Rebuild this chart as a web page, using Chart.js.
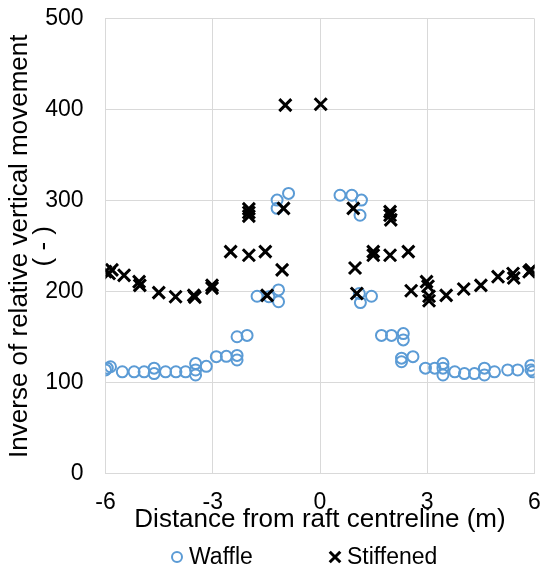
<!DOCTYPE html>
<html>
<head>
<meta charset="utf-8">
<script src="https://cdn.jsdelivr.net/npm/chart.js@4.4.1/dist/chart.umd.min.js"></script>
<style>
  html, body { margin: 0; padding: 0; background: #ffffff; }
  #wrap { width: 546px; height: 572px; }
</style>
</head>
<body>
<div id="wrap"><canvas id="chart" width="546" height="572"></canvas></div>
<script>
// Distance from raft centreline (m) and inverse of relative vertical movement (-)
const waffleX = [-6.0, -5.95, -5.86, -5.53, -5.2, -4.92, -4.64, -4.64, -4.32, -4.03, -3.76,
  -3.48, -3.48, -3.48, -3.18, -2.9, -2.62, -2.32, -2.32, -2.32, -2.04, -1.76, -1.43,
  -1.16, -1.16, -1.2, -1.2, -0.88,
  0.56, 0.89, 1.16, 1.12, 1.1, 1.13, 1.44, 1.72, 2.0, 2.33, 2.33, 2.28, 2.28, 2.6,
  2.95, 3.21, 3.44, 3.44, 3.44, 3.77, 4.04, 4.32, 4.6, 4.6, 4.88, 5.25, 5.53, 5.9, 5.9, 5.95];
const waffleY = [114, 116, 117.5, 112, 112, 112, 116, 110, 112, 112, 112,
  121, 114, 108.5, 118, 128.6, 129, 130, 125, 150.5, 152, 195, 194.5,
  202, 189, 300.7, 291.6, 308,
  306, 306, 300.7, 284, 198, 188, 195, 152, 152, 154, 147, 127, 123, 128.6,
  116, 116, 121, 116, 108.5, 112, 110, 110, 116, 108.5, 112, 114, 114, 119, 114, 112];

const stiffenedX = [-6.0, -5.9, -5.82, -5.48, -5.06, -5.04, -4.51, -4.04, -3.53, -3.5,
  -3.02, -3.02, -2.5, -1.99, -1.53, -1.06, -1.48, -1.99, -1.99, -1.99, -1.02, -0.97, 0.02,
  0.93, 0.98, 1.03, 1.49, 1.49, 1.96, 2.47, 1.96, 1.96, 1.98, 2.55, 2.98, 3.02, 3.05, 3.05,
  3.53, 4.02, 4.5, 4.98, 5.4, 5.42, 5.85, 5.9];
const stiffenedY = [222, 220, 224, 218, 211, 207, 199, 194.5, 196, 194,
  204, 207, 244, 240, 244, 224, 196, 291, 287, 283, 291.6, 405, 406,
  291.6, 226, 198, 244, 240, 240, 244, 288, 284, 279, 201, 211, 206, 195, 190,
  196, 203, 207, 216.5, 220, 215, 222, 224];

const xTicks = [-6, -3, 0, 3, 6];
const yTicks = [0, 100, 200, 300, 400, 500];
const seriesNames = ['Waffle', 'Stiffened'];

const toPoints = (xs, ys) => xs.map((x, i) => ({ x: x, y: ys[i] }));

const FONT = "'Liberation Sans', Arial, sans-serif";
const GRID = '#d9d9d9';
const BLUE = '#5b9bd5';

// Keep the plot box fixed: no extra room for overhanging tick labels
const noOverhang = (scale) => {
  scale.paddingTop = 0;
  scale.paddingBottom = 0;
  scale.paddingLeft = 0;
  scale.paddingRight = 0;
};

// Legend drawn under the axis title, one row, marker then label
const bottomLegend = {
  id: 'bottomLegend',
  afterDraw(chart) {
    const ctx = chart.ctx;
    const items = chart.data.datasets;
    const cy = 557;
    const starts = [177, 335];
    ctx.save();
    ctx.font = '23px ' + FONT;
    ctx.textBaseline = 'middle';
    ctx.textAlign = 'left';
    items.forEach((ds, i) => {
      const cx = starts[i];
      ctx.strokeStyle = ds.borderColor;
      ctx.fillStyle = 'rgba(0,0,0,0)';
      ctx.lineWidth = ds.borderWidth;
      Chart.helpers.drawPoint(ctx, {
        pointStyle: ds.pointStyle,
        radius: ds.pointStyle === 'circle' ? 5 : 7.5,
        rotation: 0,
        borderWidth: ds.borderWidth
      }, cx, cy);
      ctx.fillStyle = '#000000';
      ctx.fillText(ds.label, cx + 12, cy + 1);
    });
    ctx.restore();
  }
};

new Chart(document.getElementById('chart'), {
  type: 'scatter',
  data: {
    datasets: [
      {
        label: seriesNames[0],
        data: toPoints(waffleX, waffleY),
        pointStyle: 'circle',
        pointRadius: 5.5,
        pointHoverRadius: 5.5,
        borderWidth: 2,
        borderColor: BLUE,
        backgroundColor: 'rgba(0,0,0,0)',
        order: 1
      },
      {
        label: seriesNames[1],
        data: toPoints(stiffenedX, stiffenedY),
        pointStyle: 'crossRot',
        pointRadius: 8.5,
        pointHoverRadius: 8.5,
        borderWidth: 3,
        borderColor: '#000000',
        backgroundColor: '#000000',
        order: 0
      }
    ]
  },
  options: {
    responsive: false,
    animation: false,
    devicePixelRatio: 1,
    layout: { padding: { top: 18.7, right: 9, bottom: 30, left: 0 } },
    plugins: {
      legend: { display: false },
      tooltip: { enabled: false }
    },
    scales: {
      x: {
        type: 'linear',
        min: xTicks[0],
        max: xTicks[xTicks.length - 1],
        afterBuildTicks(scale) { scale.ticks = xTicks.map(v => ({ value: v })); },
        afterFit(scale) { scale.height = 68.3; noOverhang(scale); },
        grid: { color: GRID, lineWidth: 1, drawTicks: false },
        border: { color: GRID, width: 1 },
        ticks: {
          padding: 15,
          color: '#000000',
          font: { family: FONT, size: 23 },
          callback: v => String(v)
        },
        title: {
          display: true,
          text: 'Distance from raft centreline (m)',
          color: '#000000',
          font: { family: FONT, size: 26, lineHeight: 1.2 },
          padding: { top: 0, bottom: 6.5 }
        }
      },
      y: {
        type: 'linear',
        min: yTicks[0],
        max: yTicks[yTicks.length - 1],
        afterBuildTicks(scale) { scale.ticks = yTicks.map(v => ({ value: v })); },
        afterFit(scale) { scale.width = 105.5; noOverhang(scale); },
        grid: { color: GRID, lineWidth: 1, drawTicks: false },
        border: { color: GRID, width: 1 },
        ticks: {
          padding: 22,
          color: '#000000',
          font: { family: FONT, size: 23 }
        },
        title: {
          display: true,
          text: ['Inverse of relative vertical movement', '( - )'],
          color: '#000000',
          font: { family: FONT, size: 26, lineHeight: 0.92 },
          padding: { top: 8, bottom: 0 }
        }
      }
    }
  },
  plugins: [bottomLegend]
});
</script>
</body>
</html>
